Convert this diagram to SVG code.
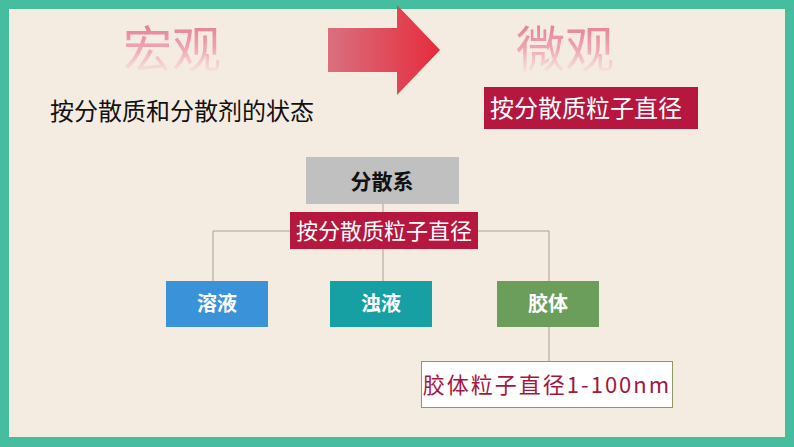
<svg xmlns="http://www.w3.org/2000/svg" width="794" height="447" viewBox="0 0 794 447">
<style>
.cjk{font-family:"Noto Sans CJK SC","Noto Sans",sans-serif}
.lbl{font-size:20px;font-weight:bold;fill:#ffffff;text-anchor:middle}
.conn{stroke:#ab9f92;stroke-width:1;fill:none}
</style>
<defs>
<linearGradient id="arrowG" x1="0" y1="0" x2="1" y2="0">
<stop offset="0" stop-color="#d9707e"/>
<stop offset="1" stop-color="#e52c3c"/>
</linearGradient>
<linearGradient id="fadeG" x1="0" y1="0" x2="0" y2="1">
<stop offset="0" stop-color="#e2647f" stop-opacity="1"/>
<stop offset="0.55" stop-color="#ee9aad" stop-opacity="0.85"/>
<stop offset="1" stop-color="#fbf4f0" stop-opacity="0.5"/>
</linearGradient>
</defs>
<rect x="0" y="0" width="794" height="447" fill="#45bd9f"/>
<rect x="9" y="9" width="776" height="428" fill="#f5ece1"/>

<g id="macro">
<text x="172" y="67" class="cjk" font-size="49" text-anchor="middle" fill="url(#fadeG)">宏观</text>
</g>
<g id="arrow">
<polygon points="328,28 397,28 397,5 440,50 397,95 397,72 328,72" fill="url(#arrowG)"/>
</g>
<g id="micro">
<text x="565" y="67" class="cjk" font-size="49" text-anchor="middle" fill="url(#fadeG)">微观</text>
</g>
<g id="state-label">
<text x="50" y="120" class="cjk" font-size="24" fill="#111111">按分散质和分散剂的状态</text>
</g>
<g id="micro-label">
<rect x="484" y="87" width="214" height="42" fill="#b5173f"/>
<text x="586" y="117" class="cjk" font-size="24" fill="#ffffff" text-anchor="middle">按分散质粒子直径</text>
</g>

<g id="connectors">
<line class="conn" x1="383" y1="204" x2="383" y2="281"/>
<line class="conn" x1="213" y1="231" x2="549" y2="231"/>
<line class="conn" x1="213" y1="231" x2="213" y2="281"/>
<line class="conn" x1="549" y1="231" x2="549" y2="281"/>
<line class="conn" x1="549" y1="327" x2="549" y2="361"/>
</g>

<g id="dispersion">
<rect x="306" y="157" width="153" height="47" fill="#c0c0c0"/>
<text x="382" y="189" class="cjk" font-size="21" font-weight="bold" fill="#111111" text-anchor="middle">分散系</text>
</g>
<g id="criterion">
<rect x="290" y="212" width="188" height="37" fill="#b5173f"/>
<text x="384" y="239" class="cjk" font-size="22" fill="#ffffff" text-anchor="middle">按分散质粒子直径</text>
</g>
<g id="solution">
<rect x="166" y="281" width="102" height="46" fill="#3a93d8"/>
<text x="217" y="311" class="cjk lbl">溶液</text>
</g>
<g id="suspension">
<rect x="330" y="281" width="102" height="46" fill="#17a0a4"/>
<text x="381" y="311" class="cjk lbl">浊液</text>
</g>
<g id="colloid">
<rect x="497" y="281" width="102" height="46" fill="#6a9e5a"/>
<text x="548" y="311" class="cjk lbl">胶体</text>
</g>
<g id="colloid-size">
<rect x="421.5" y="361.5" width="251" height="46" fill="#ffffff" stroke="#8f9a62" stroke-width="1"/>
<text x="547" y="393" class="cjk" font-size="22" fill="#a3173f" text-anchor="middle" letter-spacing="2">胶体粒子直径1-100nm</text>
</g>
</svg>
